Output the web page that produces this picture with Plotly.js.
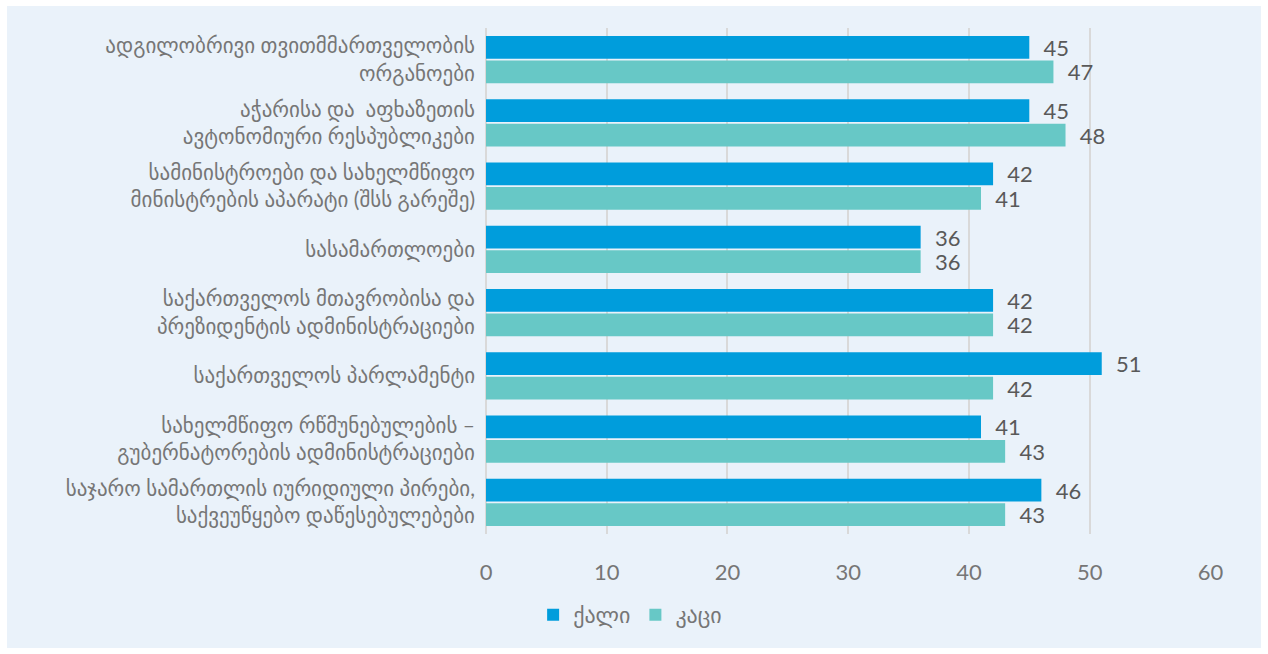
<!DOCTYPE html>
<html>
<head>
<meta charset="utf-8">
<script src="https://cdn.plot.ly/plotly-3.0.1.min.js"></script>
<style>
  html, body { margin: 0; padding: 0; background: #ffffff; }
  #chart { position: absolute; left: 7px; top: 6px; width: 1254px; height: 642px; }
</style>
</head>
<body>
<div id="chart"></div>
<script>
const categories = [
  "ადგილობრივი თვითმმართველობის<br>ორგანოები",
  "აჭარისა და  აფხაზეთის<br>ავტონომიური რესპუბლიკები",
  "სამინისტროები და სახელმწიფო<br>მინისტრების აპარატი (შსს გარეშე)",
  "სასამართლოები",
  "საქართველოს მთავრობისა და<br>პრეზიდენტის ადმინისტრაციები",
  "საქართველოს პარლამენტი",
  "სახელმწიფო რწმუნებულების –<br>გუბერნატორების ადმინისტრაციები",
  "საჯარო სამართლის იურიდიული პირები,<br>საქვეუწყებო დაწესებულებები"
];
const seriesNames = ["ქალი", "კაცი"];
const womenValues = [45, 45, 42, 36, 42, 51, 41, 46];
const menValues = [47, 48, 41, 36, 42, 42, 43, 43];
const xTicks = [0, 10, 20, 30, 40, 50, 60];

const fontFam = "Lato, 'DejaVu Sans', sans-serif";

const traces = [
  {
    type: "bar", orientation: "h", name: seriesNames[0],
    y: categories, x: womenValues,
    marker: { color: "#009DDC" },
    text: womenValues.map(String), texttemplate: "  %{text}",
    textposition: "outside", cliponaxis: false, constraintext: "none",
    textfont: { family: fontFam, size: 22, color: "#595959" },
    hoverinfo: "x"
  },
  {
    type: "bar", orientation: "h", name: seriesNames[1],
    y: categories, x: menValues,
    marker: { color: "#67C8C6" },
    text: menValues.map(String), texttemplate: "  %{text}",
    textposition: "outside", cliponaxis: false, constraintext: "none",
    textfont: { family: fontFam, size: 22, color: "#595959" },
    hoverinfo: "x"
  }
];

const layout = {
  width: 1254, height: 642,
  paper_bgcolor: "#EAF2FA", plot_bgcolor: "#EAF2FA",
  margin: { l: 479, r: 50, t: 22, b: 108 },
  barmode: "group", bargap: 0.22, bargroupgap: 0.08,
  font: { family: fontFam, color: "#767676" },
  xaxis: {
    range: [0, 60.05], tickvals: xTicks, ticktext: xTicks.map(String),
    showgrid: true, gridcolor: "#D9D9D9", gridwidth: 2,
    zeroline: true, zerolinecolor: "#D9D9D9", zerolinewidth: 2,
    showline: false, ticks: "", ticklabelstandoff: 23, automargin: false,
    tickfont: { family: fontFam, size: 22, color: "#767676" },
    fixedrange: true
  },
  yaxis: {
    autorange: "reversed", type: "category", automargin: false,
    showgrid: false, zeroline: false, ticks: "",
    ticklabelstandoff: 10,
    tickfont: { family: fontFam, size: 21, color: "#767676" },
    fixedrange: true
  },
  showlegend: true,
  legend: {
    orientation: "h", x: 0.065, xanchor: "left", y: -0.16, yanchor: "middle",
    font: { family: fontFam, size: 22, color: "#767676" },
    bgcolor: "rgba(0,0,0,0)", traceorder: "normal"
  }
};

Plotly.newPlot("chart", traces, layout, { displayModeBar: false, staticPlot: true });
</script>
</body>
</html>
